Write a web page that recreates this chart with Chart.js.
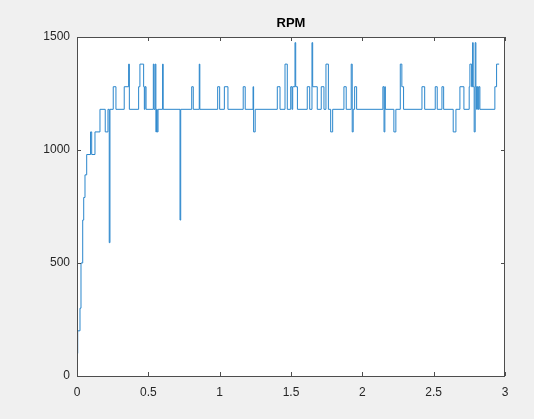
<!DOCTYPE html>
<html lang="en">
<head>
    <meta charset="UTF-8">
    <title>RPM</title>
    <script src="https://cdn.jsdelivr.net/npm/chart.js@4.4.0/dist/chart.umd.min.js"></script>
    <style>
        html, body { margin: 0; padding: 0; background: #f0f0f0; }
        #wrap { width: 534px; height: 419px; }
    </style>
</head>
<body>
<div id="wrap"><canvas id="rpmChart"></canvas></div>

<script>
// change points: value holds from this time until the next one
var tiempo = [0, 0.001, 0.005, 0.021, 0.028, 0.04, 0.047, 0.056, 0.068, 0.095,
  0.103, 0.126, 0.161, 0.198, 0.217, 0.226, 0.231, 0.254, 0.273, 0.331,
  0.362, 0.367, 0.432, 0.441, 0.467, 0.472, 0.477, 0.484, 0.535, 0.54,
  0.548, 0.553, 0.558, 0.562, 0.568, 0.6, 0.604, 0.722, 0.727, 0.804,
  0.815, 0.857, 0.861, 0.986, 1.0, 1.033, 1.058, 1.165, 1.179, 1.234,
  1.238, 1.249, 1.404, 1.423, 1.458, 1.474, 1.498, 1.507, 1.512, 1.528,
  1.533, 1.545, 1.614, 1.631, 1.647, 1.652, 1.684, 1.712, 1.731, 1.745,
  1.762, 1.778, 1.792, 1.871, 1.887, 1.922, 1.929, 1.936, 1.946, 1.96,
  2.144, 2.152, 2.158, 2.161, 2.221, 2.235, 2.266, 2.277, 2.289, 2.418,
  2.437, 2.511, 2.525, 2.558, 2.57, 2.637, 2.656, 2.684, 2.712, 2.749,
  2.754, 2.766, 2.773, 2.777, 2.784, 2.791, 2.796, 2.801, 2.806, 2.812,
  2.817, 2.824, 2.929, 2.941, 2.959];

var rpm = [0, 100, 200, 300, 500, 690, 790, 890, 980, 1080,
  980, 1080, 1180, 1080, 1180, 590, 1180, 1280, 1180, 1280,
  1380, 1180, 1280, 1380, 1280, 1180, 1280, 1180, 1380, 1180,
  1380, 1080, 1180, 1080, 1180, 1380, 1180, 690, 1180, 1280,
  1180, 1380, 1180, 1280, 1180, 1280, 1180, 1280, 1180, 1280,
  1080, 1180, 1280, 1180, 1380, 1180, 1280, 1180, 1280, 1475,
  1280, 1180, 1280, 1180, 1475, 1280, 1180, 1280, 1180, 1380,
  1180, 1080, 1180, 1280, 1180, 1380, 1080, 1180, 1280, 1180,
  1280, 1080, 1280, 1180, 1080, 1180, 1380, 1280, 1180, 1280,
  1180, 1280, 1180, 1280, 1180, 1080, 1180, 1280, 1180, 1280,
  1380, 1280, 1475, 1280, 1080, 1475, 1280, 1180, 1280, 1180,
  1280, 1180, 1280, 1380, 1380];

var xTicks = [0, 0.5, 1, 1.5, 2, 2.5, 3];
var yTicks = [0, 500, 1000, 1500];
var titulo = 'RPM';

var puntos = [];
for (var i = 0; i < tiempo.length; i++) {
  puntos.push({ x: tiempo[i], y: rpm[i] });
}

// white axes box, frame, inward ticks and title like a matlab figure
var marcoMatlab = {
  id: 'marcoMatlab',
  beforeDraw: function(chart) {
    var a = chart.chartArea;
    var ctx = chart.ctx;
    ctx.save();
    ctx.fillStyle = '#ffffff';
    ctx.fillRect(a.left, a.top, a.right - a.left, a.bottom - a.top);
    ctx.restore();
  },
  afterDraw: function(chart) {
    var a = chart.chartArea;
    var ctx = chart.ctx;
    var sx = chart.scales.x;
    var sy = chart.scales.y;
    ctx.save();
    ctx.strokeStyle = '#4d4d4d';
    ctx.lineWidth = 1;
    ctx.strokeRect(a.left + 0.5, a.top + 0.5, a.right - a.left - 1, a.bottom - a.top);
    ctx.beginPath();
    xTicks.forEach(function(v) {
      var px = Math.round(sx.getPixelForValue(v)) + 0.5;
      ctx.moveTo(px, a.bottom); ctx.lineTo(px, a.bottom - 4);
      ctx.moveTo(px, a.top); ctx.lineTo(px, a.top + 4);
    });
    yTicks.forEach(function(v) {
      var py = Math.round(sy.getPixelForValue(v)) + 0.5;
      ctx.moveTo(a.left, py); ctx.lineTo(a.left + 4, py);
      ctx.moveTo(a.right, py); ctx.lineTo(a.right - 4, py);
    });
    ctx.stroke();
    ctx.fillStyle = '#000000';
    ctx.font = 'bold 13px "Liberation Sans", Arial, sans-serif';
    ctx.textAlign = 'center';
    ctx.textBaseline = 'middle';
    ctx.fillText(titulo, (a.left + a.right) / 2, 23);
    ctx.restore();
  }
};

const ctx = document.getElementById('rpmChart');
new Chart(ctx, {
  type: 'line',
  data: {
    datasets: [{
      label: 'RPM',
      data: puntos,
      stepped: true,
      borderColor: '#2a86cc',
      borderWidth: 1,
      pointRadius: 0,
      fill: false
    }]
  },
  options: {
    responsive: true,
    maintainAspectRatio: false,
    animation: false,
    layout: { padding: { top: 37, right: 29, left: 0, bottom: 0 } },
    plugins: {
      legend: { display: false },
      title: { display: false },
      tooltip: { enabled: false }
    },
    scales: {
      x: {
        type: 'linear',
        min: 0,
        max: 3,
        afterBuildTicks: function(s) { s.ticks = xTicks.map(function(v) { return { value: v }; }); },
        afterFit: function(s) { s.height = 43; },
        grid: { display: false, drawTicks: false },
        border: { display: false },
        ticks: {
          padding: 9,
          maxRotation: 0,
          color: '#262626',
          font: { family: '"Liberation Sans", Arial, sans-serif', size: 12 },
          callback: function(v) { return String(v); }
        }
      },
      y: {
        min: 0,
        max: 1500,
        afterBuildTicks: function(s) { s.ticks = yTicks.map(function(v) { return { value: v }; }); },
        afterFit: function(s) { s.width = 77; },
        grid: { display: false, drawTicks: false },
        border: { display: false },
        ticks: {
          padding: 7,
          color: '#262626',
          font: { family: '"Liberation Sans", Arial, sans-serif', size: 12 },
          callback: function(v) { return String(v); }
        }
      }
    }
  },
  plugins: [marcoMatlab]
});
</script>
</body>
</html>
